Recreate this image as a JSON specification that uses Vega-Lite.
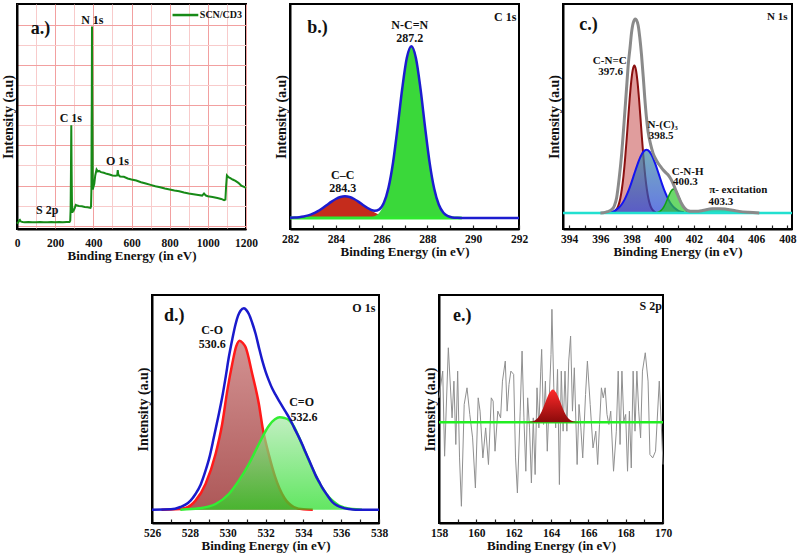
{
  "$schema": "https://vega.github.io/schema/vega-lite/v6.json",
  "padding": {"left": 0, "top": 3, "right": 0, "bottom": 0},
  "background": "white",
  "config": {
    "font": "Liberation Serif",
    "view": {"stroke": "black", "strokeWidth": 2},
    "axis": {"labelFont": "Liberation Serif", "labelFontWeight": "bold", "labelFontSize": 11.5, "labelColor": "#111", "titleFont": "Liberation Serif", "titleFontWeight": "bold", "titleColor": "#111", "domainColor": "black", "domainWidth": 2, "tickColor": "#222", "grid": false},
    "axisX": {"titleFontSize": 13, "labelFlush": false, "labelOverlap": false, "tickSize": -4, "tickWidth": 1.2, "labelPadding": 8, "titlePadding": 1, "format": "d"},
    "axisY": {"titleFontSize": 14, "labels": false, "ticks": false, "titlePadding": 2},
    "text": {"font": "Liberation Serif", "fontWeight": "bold", "fontSize": 12, "color": "#111"}
  },
  "spacing": 30,
  "vconcat": [
    {
      "spacing": 44,
      "bounds": "flush",
      "hconcat": [
        {
          "width": 229, "height": 225,
          "encoding": {
            "x": {"field": "x", "type": "quantitative", "scale": {"domain": [0, 1200], "nice": false, "zero": false},
              "axis": {"title": "Binding Energy (in eV)", "values": [0,100,200,300,400,500,600,700,800,900,1000,1100,1200], "grid": true, "gridColor": {"condition": {"test": "datum.value % 200 === 0", "value": "#f2a0a0"}, "value": "#f8cbcb"}, "labelExpr": "datum.value % 200 === 0 ? datum.label : ''", "ticks": false}},
            "y": {"field": "y", "type": "quantitative", "scale": {"domain": [0, 673], "nice": false, "zero": false},
              "axis": {"title": "Intensity (a.u)", "values": [10,70,130,190,250,310,370,430,490,550,610], "grid": true, "gridColor": {"condition": {"test": "(datum.value - 10) % 120 === 0", "value": "#f2a0a0"}, "value": "#f8cbcb"}}}
          },
          "layer": [
            {"data": {"values": [
              {"x":0,"y":16},{"x":3,"y":18},{"x":8,"y":21},{"x":12,"y":26},{"x":15,"y":27},{"x":18,"y":24},{"x":22,"y":22},{"x":30,"y":21},{"x":40,"y":20},{"x":60,"y":21},{"x":80,"y":20},{"x":100,"y":20},{"x":120,"y":21},{"x":140,"y":20},{"x":160,"y":20},{"x":180,"y":21},{"x":200,"y":20},{"x":220,"y":21},{"x":240,"y":20},{"x":260,"y":21},{"x":275,"y":21},{"x":279,"y":25},{"x":281,"y":60},{"x":283,"y":190},{"x":284.5,"y":310},{"x":286,"y":190},{"x":288,"y":80},{"x":290,"y":48},{"x":293,"y":58},{"x":297,"y":56},{"x":302,"y":62},{"x":308,"y":72},{"x":315,"y":70},{"x":325,"y":69},{"x":340,"y":68},{"x":355,"y":66},{"x":370,"y":65},{"x":385,"y":63},{"x":388,"y":68},{"x":390,"y":120},{"x":391,"y":300},{"x":392,"y":390},{"x":393,"y":606},{"x":394.5,"y":390},{"x":395.5,"y":300},{"x":397,"y":118},{"x":400,"y":125},{"x":405,"y":135},{"x":410,"y":160},{"x":417,"y":178},{"x":424,"y":172},{"x":430,"y":174},{"x":440,"y":170},{"x":455,"y":168},{"x":470,"y":165},{"x":485,"y":163},{"x":500,"y":160},{"x":515,"y":159},{"x":525,"y":160},{"x":528,"y":176},{"x":531,"y":162},{"x":540,"y":157},{"x":560,"y":156},{"x":580,"y":151},{"x":600,"y":148},{"x":625,"y":145},{"x":650,"y":140},{"x":675,"y":136},{"x":700,"y":132},{"x":725,"y":128},{"x":750,"y":125},{"x":775,"y":121},{"x":800,"y":118},{"x":825,"y":115},{"x":850,"y":113},{"x":875,"y":109},{"x":900,"y":106},{"x":925,"y":104},{"x":950,"y":102},{"x":970,"y":100},{"x":980,"y":106},{"x":990,"y":100},{"x":1000,"y":98},{"x":1025,"y":96},{"x":1050,"y":93},{"x":1070,"y":90},{"x":1085,"y":86},{"x":1092,"y":88},{"x":1096,"y":130},{"x":1100,"y":160},{"x":1108,"y":155},{"x":1118,"y":152},{"x":1130,"y":148},{"x":1145,"y":144},{"x":1160,"y":138},{"x":1175,"y":130},{"x":1190,"y":126},{"x":1200,"y":123}
            ]}, "mark": {"type": "line", "color": "#178a17", "strokeWidth": 2}},
            {"data": {"values": [{"x": 815, "y": 640}, {"x": 950, "y": 640}]}, "mark": {"type": "line", "color": "#178a17", "strokeWidth": 2.5}},
            {"data": {"values": [{"x": 958, "y": 640, "t": "SCN/CD3"}]}, "mark": {"type": "text", "align": "left", "fontSize": 10}, "encoding": {"text": {"field": "t"}}},
            {"data": {"values": [{"x": 395, "y": 626, "t": "N 1s"}, {"x": 282, "y": 331, "t": "C 1s"}, {"x": 526, "y": 203, "t": "O 1s"}, {"x": 158, "y": 56, "t": "S 2p"}]}, "mark": {"type": "text", "fontSize": 12}, "encoding": {"text": {"field": "t"}}},
            {"data": {"values": [{"x": 123, "y": 598, "t": "a.)"}]}, "mark": {"type": "text", "fontSize": 18}, "encoding": {"text": {"field": "t"}}}
          ]
        },
        {
          "width": 229, "height": 225,
          "encoding": {
            "x": {"field": "x", "type": "quantitative", "scale": {"domain": [282, 292], "nice": false, "zero": false},
              "axis": {"title": "Binding Energy (in eV)", "values": [282,283,284,285,286,287,288,289,290,291,292], "labelExpr": "datum.value % 2 === 0 ? datum.label : ''"}},
            "y": {"field": "y", "type": "quantitative", "scale": {"domain": [0, 675], "nice": false, "zero": false}, "axis": {"title": "Intensity (a.u)"}}
          },
          "layer": [
            {"data": {"values": [
              {"x":282.0,"y":33.6},{"x":282.2,"y":34.2},{"x":282.4,"y":35.4},{"x":282.6,"y":37.5},{"x":282.8,"y":40.9},{"x":283.0,"y":46},{"x":283.2,"y":52.9},{"x":283.4,"y":61.6},{"x":283.6,"y":71.4},{"x":283.8,"y":81.4},{"x":284.0,"y":90},{"x":284.2,"y":95.9},{"x":284.4,"y":98},{"x":284.6,"y":95.9},{"x":284.8,"y":90},{"x":285.0,"y":81.4},{"x":285.2,"y":71.4},{"x":285.4,"y":61.6},{"x":285.6,"y":52.9},{"x":285.8,"y":46},{"x":286.0,"y":40.9},{"x":286.2,"y":37.5},{"x":286.4,"y":35.4},{"x":286.6,"y":34.2},{"x":286.8,"y":33.6},{"x":287.0,"y":33}
            ]}, "mark": {"type": "area", "color": "#c52c1c", "interpolate": "monotone"}, "encoding": {"y2": {"datum": 33}}},
            {"data": {"values": [
              {"x":285.3,"y":33.3},{"x":285.5,"y":34.6},{"x":285.7,"y":38.4},{"x":285.9,"y":48.7},{"x":286.1,"y":72.7},{"x":286.3,"y":120},{"x":286.5,"y":197.8},{"x":286.7,"y":304.4},{"x":286.9,"y":420.3},{"x":287.1,"y":512.5},{"x":287.3,"y":548},{"x":287.5,"y":512.5},{"x":287.7,"y":420.3},{"x":287.9,"y":304.4},{"x":288.1,"y":197.8},{"x":288.3,"y":120},{"x":288.5,"y":72.7},{"x":288.7,"y":48.7},{"x":288.9,"y":38.4},{"x":289.1,"y":34.6},{"x":289.3,"y":33.4},{"x":289.5,"y":33}
            ]}, "mark": {"type": "area", "color": "#3ad83a", "interpolate": "monotone"}, "encoding": {"y2": {"datum": 33}}},
            {"data": {"values": [{"x": 282, "y": 33}, {"x": 289.5, "y": 33}]}, "mark": {"type": "line", "color": "#2ee82e", "strokeWidth": 3}},
            {"data": {"values": [
              {"x":282.0,"y":33.6},{"x":282.2,"y":34.2},{"x":282.4,"y":35.4},{"x":282.6,"y":37.5},{"x":282.8,"y":40.9},{"x":283.0,"y":46},{"x":283.2,"y":52.9},{"x":283.4,"y":61.6},{"x":283.6,"y":71.4},{"x":283.8,"y":81.4},{"x":284.0,"y":90},{"x":284.2,"y":95.9},{"x":284.4,"y":98},{"x":284.6,"y":95.9},{"x":284.8,"y":90},{"x":285.0,"y":81.4},{"x":285.2,"y":71.4},{"x":285.5,"y":58.6},{"x":285.7,"y":54.6},{"x":285.9,"y":58.9},{"x":286.1,"y":78.7},{"x":286.3,"y":123.3},{"x":286.5,"y":199.5},{"x":286.7,"y":305.2},{"x":286.9,"y":420.7},{"x":287.1,"y":512.7},{"x":287.3,"y":548},{"x":287.5,"y":512.5},{"x":287.7,"y":420.3},{"x":287.9,"y":304.4},{"x":288.1,"y":197.8},{"x":288.3,"y":120},{"x":288.5,"y":72.7},{"x":288.7,"y":48.7},{"x":288.9,"y":38.4},{"x":289.1,"y":34.6},{"x":289.3,"y":33.4},{"x":289.5,"y":33},{"x":292,"y":33}
            ]}, "mark": {"type": "line", "color": "#1c1ccf", "strokeWidth": 2.5, "interpolate": "monotone"}},
            {"data": {"values": [{"x": 287.23, "y": 613, "t": "N-C=N"}, {"x": 287.23, "y": 573, "t": "287.2"}, {"x": 284.3, "y": 161, "t": "C–C"}, {"x": 284.3, "y": 123, "t": "284.3"}, {"x": 291.4, "y": 636, "t": "C 1s"}]}, "mark": {"type": "text", "fontSize": 12}, "encoding": {"text": {"field": "t"}}},
            {"data": {"values": [{"x": 283.2, "y": 603, "t": "b.)"}]}, "mark": {"type": "text", "fontSize": 18}, "encoding": {"text": {"field": "t"}}}
          ]
        },
        {
          "width": 229, "height": 225,
          "encoding": {
            "x": {"field": "x", "type": "quantitative", "scale": {"domain": [393.6, 408.3], "nice": false, "zero": false},
              "axis": {"title": "Binding Energy (in eV)", "values": [394,395,396,397,398,399,400,401,402,403,404,405,406,407,408], "labelExpr": "datum.value % 2 === 0 ? datum.label : ''"}},
            "y": {"field": "y", "type": "quantitative", "scale": {"domain": [0, 676], "nice": false, "zero": false}, "axis": {"title": "Intensity (a.u)"}}
          },
          "layer": [
            {"data": {"values": [
              {"x":396.78,"y":49.7},{"x":396.88,"y":51.7},{"x":396.98,"y":55.5},{"x":397.08,"y":62.4},{"x":397.18,"y":74},{"x":397.28,"y":92.6},{"x":397.38,"y":120.2},{"x":397.48,"y":158.3},{"x":397.58,"y":207.5},{"x":397.68,"y":266},{"x":397.78,"y":329.3},{"x":397.88,"y":391.3},{"x":397.98,"y":443.6},{"x":398.08,"y":478.6},{"x":398.18,"y":491},{"x":398.28,"y":478.6},{"x":398.38,"y":443.6},{"x":398.48,"y":391.3},{"x":398.58,"y":329.3},{"x":398.68,"y":266},{"x":398.78,"y":207.5},{"x":398.88,"y":158.3},{"x":398.98,"y":120.2},{"x":399.08,"y":92.6},{"x":399.18,"y":74},{"x":399.28,"y":62.4},{"x":399.38,"y":55.5},{"x":399.48,"y":51.7},{"x":399.58,"y":49.7}
            ]}, "mark": {"type": "area", "color": "#d37474", "interpolate": "monotone", "line": {"color": "#8b1010", "strokeWidth": 2}}, "encoding": {"y2": {"datum": 48}}},
            {"data": {"values": [
              {"x":396.56,"y":50.1},{"x":396.76,"y":52.3},{"x":396.96,"y":56.3},{"x":397.16,"y":63.1},{"x":397.36,"y":73.7},{"x":397.56,"y":89.1},{"x":397.76,"y":109.7},{"x":397.96,"y":135},{"x":398.16,"y":163.2},{"x":398.36,"y":191.4},{"x":398.56,"y":215.6},{"x":398.76,"y":232.1},{"x":398.96,"y":238},{"x":399.16,"y":232.1},{"x":399.36,"y":215.6},{"x":399.56,"y":191.4},{"x":399.76,"y":163.2},{"x":399.96,"y":135},{"x":400.16,"y":109.7},{"x":400.36,"y":89.1},{"x":400.56,"y":73.7},{"x":400.76,"y":63.1},{"x":400.96,"y":56.3},{"x":401.16,"y":52.3},{"x":401.36,"y":50.1}
            ]}, "mark": {"type": "area", "interpolate": "monotone", "color": {"gradient": "linear", "x1": 0, "y1": 0, "x2": 0, "y2": 1, "stops": [{"offset": 0, "color": "#3d8aa0"}, {"offset": 1, "color": "#2140d8"}]}, "line": {"color": "#1414f0", "strokeWidth": 2}}, "encoding": {"y2": {"datum": 48}}},
            {"data": {"values": [
              {"x":399.6,"y":49.1},{"x":399.7,"y":50.3},{"x":399.8,"y":52.4},{"x":399.9,"y":55.9},{"x":400.0,"y":61.2},{"x":400.1,"y":68.7},{"x":400.2,"y":78.3},{"x":400.3,"y":89.4},{"x":400.4,"y":100.7},{"x":400.5,"y":110.7},{"x":400.6,"y":117.5},{"x":400.7,"y":120},{"x":400.8,"y":117.5},{"x":400.9,"y":110.7},{"x":401.0,"y":100.7},{"x":401.1,"y":89.4},{"x":401.2,"y":78.3},{"x":401.3,"y":68.7},{"x":401.4,"y":61.2},{"x":401.5,"y":55.9},{"x":401.6,"y":52.4},{"x":401.7,"y":50.3},{"x":401.8,"y":49.1}
            ]}, "mark": {"type": "area", "color": "#2cc82c", "interpolate": "monotone", "line": {"color": "#12a012", "strokeWidth": 1.5}}, "encoding": {"y2": {"datum": 48}}},
            {"data": {"values": [
              {"x":401.64,"y":48.6},{"x":402.04,"y":49.8},{"x":402.44,"y":52.2},{"x":402.84,"y":55.9},{"x":403.24,"y":59.5},{"x":403.64,"y":61},{"x":404.04,"y":59.5},{"x":404.44,"y":55.9},{"x":404.84,"y":52.2},{"x":405.24,"y":49.8},{"x":405.64,"y":48.6}
            ]}, "mark": {"type": "area", "color": "#28d8b4", "interpolate": "monotone"}, "encoding": {"y2": {"datum": 48}}},
            {"data": {"values": [{"x": 393.6, "y": 48}, {"x": 408.3, "y": 48}]}, "mark": {"type": "line", "color": "#22e0d0", "strokeWidth": 2.5}},
            {"data": {"values": [
              {"x":396.0,"y":48},{"x":396.19,"y":48.5},{"x":396.45,"y":52},{"x":396.72,"y":58},{"x":396.9,"y":70},{"x":397.04,"y":93},{"x":397.2,"y":150},{"x":397.36,"y":223},{"x":397.52,"y":320},{"x":397.68,"y":423},{"x":397.8,"y":500},{"x":397.9,"y":543},{"x":398.0,"y":590},{"x":398.1,"y":618},{"x":398.25,"y":631},{"x":398.42,"y":613},{"x":398.53,"y":575},{"x":398.64,"y":523},{"x":398.75,"y":458},{"x":398.85,"y":393},{"x":398.95,"y":338},{"x":399.06,"y":293},{"x":399.22,"y":255},{"x":399.38,"y":228},{"x":399.54,"y":211},{"x":399.7,"y":198},{"x":399.86,"y":188},{"x":400.02,"y":178},{"x":400.18,"y":170},{"x":400.34,"y":163},{"x":400.55,"y":148},{"x":400.71,"y":132},{"x":400.87,"y":113},{"x":401.03,"y":95},{"x":401.19,"y":78},{"x":401.4,"y":63},{"x":401.62,"y":55},{"x":401.9,"y":53},{"x":402.15,"y":53},{"x":402.5,"y":55},{"x":402.79,"y":58},{"x":403.2,"y":60.5},{"x":403.64,"y":61},{"x":404.0,"y":60},{"x":404.28,"y":58},{"x":404.6,"y":55.5},{"x":404.9,"y":53},{"x":405.5,"y":50},{"x":406.2,"y":48}
            ]}, "mark": {"type": "line", "color": "#8a8a8a", "strokeWidth": 3, "interpolate": "monotone"}},
            {"data": {"values": [{"x": 407.36, "y": 638, "t": "N 1s"}, {"x": 396.6, "y": 506, "t": "C-N=C"}, {"x": 396.65, "y": 473, "t": "397.6"}, {"x": 400.0, "y": 313, "t": "N-(C)₃"}, {"x": 399.9, "y": 278, "t": "398.5"}, {"x": 401.6, "y": 172, "t": "C-N-H"}, {"x": 401.45, "y": 140, "t": "400.3"}, {"x": 404.85, "y": 118, "t": "π- excitation"}, {"x": 403.74, "y": 80, "t": "403.3"}]}, "mark": {"type": "text", "fontSize": 11}, "encoding": {"text": {"field": "t"}}},
            {"data": {"values": [{"x": 395.23, "y": 613, "t": "c.)"}]}, "mark": {"type": "text", "fontSize": 18}, "encoding": {"text": {"field": "t"}}}
          ]
        }
      ]
    },
    {
      "spacing": 60,
      "bounds": "flush",
      "hconcat": [
        {"width": 75, "height": 228, "data": {"values": [{}]}, "mark": {"type": "point", "opacity": 0}, "view": {"stroke": null}},
        {
          "width": 227, "height": 228,
          "encoding": {
            "x": {"field": "x", "type": "quantitative", "scale": {"domain": [526, 538], "nice": false, "zero": false},
              "axis": {"title": "Binding Energy (in eV)", "values": [526,527,528,529,530,531,532,533,534,535,536,537,538], "labelExpr": "datum.value % 2 === 0 ? datum.label : ''"}},
            "y": {"field": "y", "type": "quantitative", "scale": {"domain": [0, 684], "nice": false, "zero": false}, "axis": {"title": "Intensity (a.u)"}}
          },
          "layer": [
            {"data": {"values": [
              {"x":526.5,"y":40},{"x":527.24,"y":41},{"x":527.77,"y":45},{"x":528.3,"y":67},{"x":528.83,"y":117},{"x":529.36,"y":207},{"x":529.71,"y":297},{"x":529.98,"y":397},{"x":530.24,"y":477},{"x":530.45,"y":530},{"x":530.63,"y":547},{"x":530.8,"y":540},{"x":530.95,"y":527},{"x":531.3,"y":447},{"x":531.65,"y":357},{"x":531.86,"y":282},{"x":532.2,"y":200},{"x":532.5,"y":140},{"x":533.0,"y":75},{"x":533.5,"y":48},{"x":534.0,"y":41},{"x":534.5,"y":40}
            ]}, "mark": {"type": "area", "interpolate": "monotone", "color": {"gradient": "linear", "x1": 0, "y1": 0, "x2": 0, "y2": 1, "stops": [{"offset": 0, "color": "#c06464"}, {"offset": 1, "color": "#8a1010"}]}, "line": {"color": "#ff1a1a", "strokeWidth": 2.5}}, "encoding": {"y2": {"datum": 40}}},
            {"data": {"values": [
              {"x":527.5,"y":40},{"x":528.48,"y":44},{"x":529.36,"y":57},{"x":530.06,"y":87},{"x":530.59,"y":127},{"x":531.12,"y":177},{"x":531.65,"y":237},{"x":532.18,"y":292},{"x":532.5,"y":311},{"x":532.75,"y":317},{"x":533.0,"y":315},{"x":533.24,"y":309},{"x":533.5,"y":290},{"x":533.77,"y":257},{"x":534.03,"y":222},{"x":534.3,"y":187},{"x":534.57,"y":153},{"x":534.83,"y":122},{"x":535.1,"y":97},{"x":535.36,"y":77},{"x":535.63,"y":63},{"x":535.89,"y":52},{"x":536.2,"y":46},{"x":536.59,"y":42},{"x":537.1,"y":40}
            ]}, "mark": {"type": "area", "interpolate": "monotone", "color": {"gradient": "linear", "x1": 0, "y1": 0, "x2": 0, "y2": 1, "stops": [{"offset": 0, "color": "#a6e8a6"}, {"offset": 1, "color": "#1fdc1f"}]}, "line": {"color": "#33ee33", "strokeWidth": 2.5}}, "encoding": {"y2": {"datum": 40}}},
            {"data": {"values": [
              {"x":526.0,"y":40},{"x":527.0,"y":41},{"x":527.5,"y":48},{"x":527.77,"y":55},{"x":528.05,"y":68},{"x":528.3,"y":87},{"x":528.57,"y":115},{"x":528.83,"y":157},{"x":529.05,"y":200},{"x":529.27,"y":257},{"x":529.5,"y":318},{"x":529.71,"y":377},{"x":529.9,"y":440},{"x":530.06,"y":497},{"x":530.25,"y":553},{"x":530.42,"y":597},{"x":530.55,"y":622},{"x":530.68,"y":637},{"x":530.86,"y":644},{"x":531.0,"y":638},{"x":531.12,"y":627},{"x":531.3,"y":600},{"x":531.48,"y":567},{"x":531.65,"y":527},{"x":531.83,"y":487},{"x":532.0,"y":455},{"x":532.18,"y":427},{"x":532.35,"y":404},{"x":532.53,"y":385},{"x":532.7,"y":368},{"x":532.89,"y":350},{"x":533.06,"y":334},{"x":533.24,"y":317},{"x":533.42,"y":297},{"x":533.59,"y":277},{"x":533.77,"y":257},{"x":533.94,"y":236},{"x":534.12,"y":212},{"x":534.3,"y":189},{"x":534.48,"y":165},{"x":534.65,"y":143},{"x":534.83,"y":124},{"x":535.0,"y":106},{"x":535.27,"y":83},{"x":535.53,"y":63},{"x":535.8,"y":52},{"x":536.06,"y":46},{"x":536.4,"y":42},{"x":536.77,"y":40},{"x":538.0,"y":40}
            ]}, "mark": {"type": "line", "color": "#1a1acc", "strokeWidth": 2.5, "interpolate": "monotone"}},
            {"data": {"values": [{"x": 537.2, "y": 644, "t": "O 1s"}, {"x": 529.18, "y": 580, "t": "C-O"}, {"x": 529.18, "y": 537, "t": "530.6"}, {"x": 533.91, "y": 362, "t": "C=O"}, {"x": 534.03, "y": 317, "t": "532.6"}]}, "mark": {"type": "text", "fontSize": 12}, "encoding": {"text": {"field": "t"}}},
            {"data": {"values": [{"x": 527.17, "y": 622, "t": "d.)"}]}, "mark": {"type": "text", "fontSize": 18}, "encoding": {"text": {"field": "t"}}}
          ]
        },
        {
          "width": 224, "height": 228,
          "encoding": {
            "x": {"field": "x", "type": "quantitative", "scale": {"domain": [158, 170], "nice": false, "zero": false},
              "axis": {"title": "Binding Energy (in eV)", "values": [158,159,160,161,162,163,164,165,166,167,168,169,170], "labelExpr": "datum.value % 2 === 0 ? datum.label : ''"}},
            "y": {"field": "y", "type": "quantitative", "scale": {"domain": [0, 227.7], "nice": false, "zero": false}, "axis": {"title": "Intensity (a.u)"}}
          },
          "layer": [
            {"data": {"values": [
              {"x":158.0,"y":125.0},{"x":158.2,"y":151.7},{"x":158.3,"y":66.7},{"x":158.5,"y":175.0},{"x":158.7,"y":105.0},{"x":158.8,"y":141.7},{"x":158.9,"y":78.4},{"x":159.0,"y":151.7},{"x":159.1,"y":65.0},{"x":159.2,"y":16.7},{"x":159.35,"y":118.4},{"x":159.5,"y":135.0},{"x":159.65,"y":108.4},{"x":159.8,"y":85.0},{"x":159.95,"y":35.0},{"x":160.1,"y":125.0},{"x":160.2,"y":111.7},{"x":160.35,"y":65.0},{"x":160.5,"y":95.0},{"x":160.65,"y":58.4},{"x":160.8,"y":125.0},{"x":160.9,"y":121.7},{"x":161.0,"y":71.7},{"x":161.15,"y":111.7},{"x":161.3,"y":105.0},{"x":161.4,"y":141.7},{"x":161.55,"y":161.7},{"x":161.65,"y":111.7},{"x":161.75,"y":138.4},{"x":161.85,"y":151.7},{"x":162.0,"y":148.4},{"x":162.1,"y":65.0},{"x":162.2,"y":30.0},{"x":162.35,"y":111.7},{"x":162.45,"y":171.7},{"x":162.55,"y":105.0},{"x":162.65,"y":51.7},{"x":162.75,"y":125.0},{"x":162.85,"y":95.0},{"x":162.95,"y":40.0},{"x":163.05,"y":105.0},{"x":163.15,"y":48.4},{"x":163.25,"y":135.0},{"x":163.35,"y":95.0},{"x":163.45,"y":151.7},{"x":163.5,"y":173.4},{"x":163.6,"y":98.4},{"x":163.7,"y":141.7},{"x":163.8,"y":71.7},{"x":163.9,"y":121.7},{"x":164.0,"y":168.4},{"x":164.05,"y":213.4},{"x":164.15,"y":135.0},{"x":164.25,"y":95.0},{"x":164.35,"y":153.4},{"x":164.45,"y":38.4},{"x":164.55,"y":151.7},{"x":164.65,"y":91.7},{"x":164.75,"y":151.7},{"x":164.85,"y":91.7},{"x":164.95,"y":161.7},{"x":165.05,"y":186.7},{"x":165.15,"y":111.7},{"x":165.25,"y":155.0},{"x":165.4,"y":58.4},{"x":165.5,"y":118.4},{"x":165.6,"y":95.0},{"x":165.7,"y":65.0},{"x":165.85,"y":128.4},{"x":165.95,"y":161.7},{"x":166.1,"y":118.4},{"x":166.25,"y":75.0},{"x":166.4,"y":91.7},{"x":166.5,"y":58.4},{"x":166.6,"y":98.4},{"x":166.7,"y":135.0},{"x":166.8,"y":125.0},{"x":166.9,"y":135.0},{"x":167.0,"y":108.4},{"x":167.1,"y":98.4},{"x":167.2,"y":111.7},{"x":167.35,"y":51.7},{"x":167.5,"y":91.7},{"x":167.6,"y":151.7},{"x":167.7,"y":78.4},{"x":167.8,"y":151.7},{"x":167.9,"y":101.7},{"x":168.0,"y":108.4},{"x":168.1,"y":51.7},{"x":168.2,"y":111.7},{"x":168.3,"y":55.0},{"x":168.4,"y":151.7},{"x":168.5,"y":91.7},{"x":168.6,"y":151.7},{"x":168.7,"y":111.7},{"x":168.8,"y":85.0},{"x":168.9,"y":151.7},{"x":169.05,"y":170.0},{"x":169.2,"y":141.7},{"x":169.3,"y":68.4},{"x":169.45,"y":65.0},{"x":169.6,"y":71.7},{"x":169.8,"y":141.7},{"x":169.9,"y":101.7},{"x":170.0,"y":58.4}
            ]}, "mark": {"type": "line", "color": "#909090", "strokeWidth": 1}},
            {"data": {"values": [{"x": 158, "y": 100.7}, {"x": 170, "y": 100.7}]}, "mark": {"type": "line", "color": "#22ee22", "strokeWidth": 2.5}},
            {"data": {"values": [
              {"x":162.7,"y":100.8},{"x":162.9,"y":101.1},{"x":163.1,"y":102.1},{"x":163.3,"y":105.1},{"x":163.5,"y":111.3},{"x":163.7,"y":120.5},{"x":163.9,"y":129.5},{"x":164.1,"y":133.4},{"x":164.3,"y":129.5},{"x":164.5,"y":120.5},{"x":164.7,"y":111.3},{"x":164.9,"y":105.1},{"x":165.1,"y":102.1},{"x":165.3,"y":101.1},{"x":165.5,"y":100.8}
            ]}, "mark": {"type": "area", "interpolate": "monotone", "color": {"gradient": "linear", "x1": 0, "y1": 0, "x2": 0, "y2": 1, "stops": [{"offset": 0, "color": "#ff2a2a"}, {"offset": 1, "color": "#8a0a0a"}]}}, "encoding": {"y2": {"datum": 100.7}}},
            {"data": {"values": [{"x": 169.34, "y": 216.7, "t": "S 2p"}]}, "mark": {"type": "text", "fontSize": 12}, "encoding": {"text": {"field": "t"}}},
            {"data": {"values": [{"x": 159.25, "y": 206.7, "t": "e.)"}]}, "mark": {"type": "text", "fontSize": 18}, "encoding": {"text": {"field": "t"}}}
          ]
        }
      ]
    }
  ]
}
